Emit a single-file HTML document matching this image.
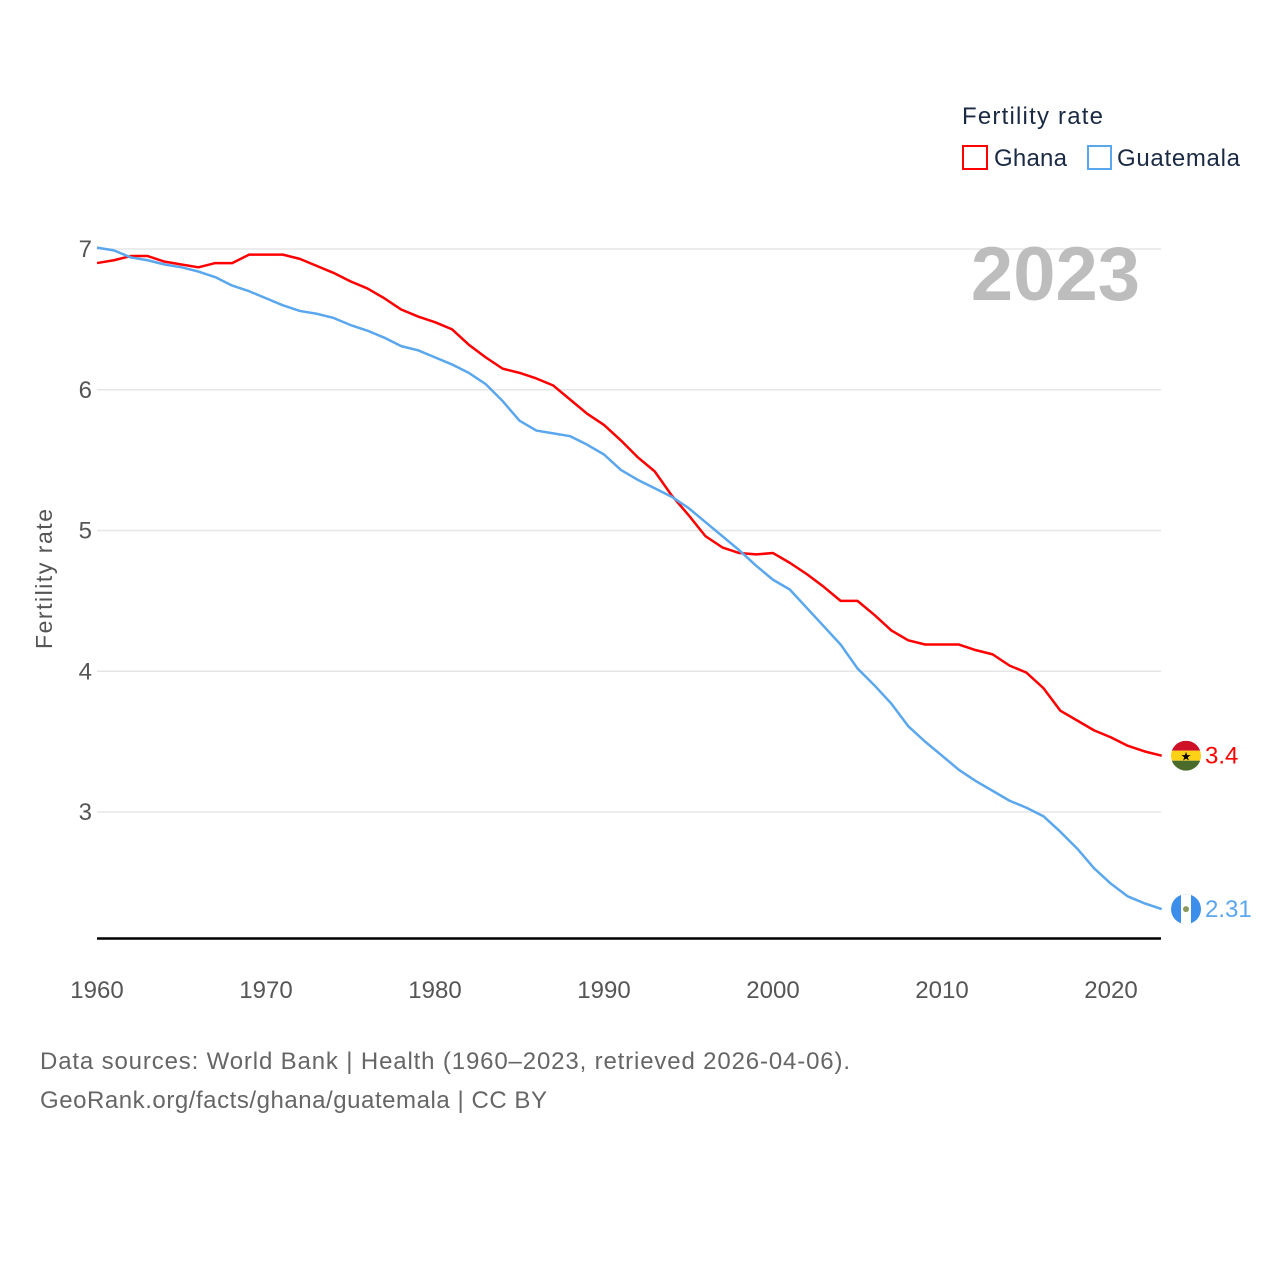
<!DOCTYPE html>
<html><head><meta charset="utf-8"><style>
body{margin:0;background:#fff;font-family:"Liberation Sans",sans-serif}
</style></head><body>
<svg id="chart" width="1280" height="1280" viewBox="0 0 1280 1280" xmlns="http://www.w3.org/2000/svg" font-family="Liberation Sans, sans-serif">
<rect width="1280" height="1280" fill="#fff"/>
<g id="grid"></g>
<g id="yticks"></g>
<g id="xticks"></g>
<line x1="97" y1="938.5" x2="1161" y2="938.5" stroke="#000" stroke-width="2.5"/>
<text x="52" y="579" transform="rotate(-90 52 579)" text-anchor="middle" font-size="23" fill="#555" textLength="140">Fertility rate</text>
<text x="1140" y="300" text-anchor="end" font-size="76" font-weight="bold" fill="#bdbdbd">2023</text>
<g>
<text x="962" y="124" font-size="24" fill="#1a2a44" textLength="141">Fertility rate</text>
<g><rect x="963" y="146" width="24" height="23" fill="none" stroke="#f00" stroke-width="2"/><text x="994" y="166" font-size="24" fill="#1a2a44" textLength="73">Ghana</text></g>
<g><rect x="1088" y="146" width="23" height="23" fill="none" stroke="#5aa7ee" stroke-width="2"/><text x="1117" y="166" font-size="24" fill="#1a2a44" textLength="123">Guatemala</text></g>
</g>
<g id="series"></g>
<g id="ends"></g>
<text x="40" y="1069" font-size="24" fill="#666" textLength="810">Data sources: World Bank | Health (1960–2023, retrieved 2026-04-06).</text>
<text x="40" y="1108" font-size="24" fill="#666" textLength="507">GeoRank.org/facts/ghana/guatemala | CC BY</text>
</svg>
<script>
const years = []; for (let y = 1960; y <= 2023; y++) years.push(y);
const ghana = [6.90,6.92,6.95,6.95,6.91,6.89,6.87,6.90,6.90,6.96,6.96,6.96,6.93,6.88,6.83,6.77,6.72,6.65,6.57,6.52,6.48,6.43,6.32,6.23,6.15,6.12,6.08,6.03,5.93,5.83,5.75,5.64,5.52,5.42,5.25,5.11,4.96,4.88,4.84,4.83,4.84,4.77,4.69,4.60,4.50,4.50,4.40,4.29,4.22,4.19,4.19,4.19,4.15,4.12,4.04,3.99,3.88,3.72,3.65,3.58,3.53,3.47,3.43,3.40];
const guatemala = [7.01,6.99,6.94,6.92,6.89,6.87,6.84,6.80,6.74,6.70,6.65,6.60,6.56,6.54,6.51,6.46,6.42,6.37,6.31,6.28,6.23,6.18,6.12,6.04,5.92,5.78,5.71,5.69,5.67,5.61,5.54,5.43,5.36,5.30,5.24,5.16,5.06,4.96,4.86,4.75,4.65,4.58,4.45,4.32,4.19,4.02,3.90,3.77,3.61,3.50,3.40,3.30,3.22,3.15,3.08,3.03,2.97,2.86,2.74,2.60,2.49,2.40,2.35,2.31];
const yTicks = [3,4,5,6,7];
const xTicks = [1960,1970,1980,1990,2000,2010,2020];
const endLabels = ["3.4","2.31"];

const NS = "http://www.w3.org/2000/svg";
const xS = v => 97 + (v - 1960) * (1014 / 60);
const yS = v => 249 + (7 - v) * 140.75;
function mk(tag, attrs, parent){const e=document.createElementNS(NS,tag);for(const k in attrs)e.setAttribute(k,attrs[k]);parent.appendChild(e);return e;}
const grid=document.getElementById('grid'), yt=document.getElementById('yticks'), xt=document.getElementById('xticks');
yTicks.forEach(t=>{
  const l=mk('line',{x1:97,x2:1161,y1:yS(t),y2:yS(t),stroke:'#e6e6e6','stroke-width':1.5},grid);
  
  
  const tx=mk('text',{x:92,y:yS(t)+8,'text-anchor':'end','font-size':24,fill:'#555'},yt);
  tx.textContent=t;
  
  
});
xTicks.forEach(t=>{
  const tx=mk('text',{x:xS(t),y:998,'text-anchor':'middle','font-size':24,fill:'#555'},xt);
  tx.textContent=t;
  
  
});
const ser=document.getElementById('series');
[[ghana,'#f00','ghana-line'],[guatemala,'#5aa7ee','guatemala-line']].forEach(([d,c,n])=>{
  const p=mk('polyline',{points:d.map((v,i)=>xS(years[i])+','+yS(v)).join(' '),fill:'none',stroke:c,'stroke-width':2.5,'stroke-linejoin':'round'},ser);
  
  
});
const ends=document.getElementById('ends');
const gx=1186, gy=yS(ghana[ghana.length-1]);
const gf=mk('g',{},ends);


mk('clipPath',{id:'cg'},gf).appendChild(document.createElementNS(NS,'circle'));
const cgc=gf.querySelector('#cg circle');cgc.setAttribute('cx',gx);cgc.setAttribute('cy',gy);cgc.setAttribute('r',15);
mk('rect',{x:gx-15,y:gy-15,width:30,height:10,fill:'#ce1126','clip-path':'url(#cg)'},gf);
mk('rect',{x:gx-15,y:gy-5,width:30,height:10,fill:'#fcd116','clip-path':'url(#cg)'},gf);
mk('rect',{x:gx-15,y:gy+5,width:30,height:10,fill:'#4a6b2a','clip-path':'url(#cg)'},gf);
const st=mk('text',{x:gx,y:gy+5,'text-anchor':'middle','font-size':12,fill:'#000'},gf);st.textContent='★';
const t1=mk('text',{x:1205,y:gy+8,'font-size':24,fill:'#f00'},ends);t1.textContent=endLabels[0];


const qy=yS(guatemala[guatemala.length-1]);
const qf=mk('g',{},ends);


mk('clipPath',{id:'cq'},qf).appendChild(document.createElementNS(NS,'circle'));
const cqc=qf.querySelector('#cq circle');cqc.setAttribute('cx',gx);cqc.setAttribute('cy',qy);cqc.setAttribute('r',15);
mk('rect',{x:gx-15,y:qy-15,width:30,height:30,fill:'#3b8fea','clip-path':'url(#cq)'},qf);
mk('rect',{x:gx-5,y:qy-15,width:10,height:30,fill:'#fff','clip-path':'url(#cq)'},qf);
mk('circle',{cx:gx,cy:qy,r:3,fill:'#8a9a5b'},qf);
const t2=mk('text',{x:1205,y:qy+8,'font-size':24,fill:'#5aa7ee'},ends);t2.textContent=endLabels[1];


</script>
</body></html>
